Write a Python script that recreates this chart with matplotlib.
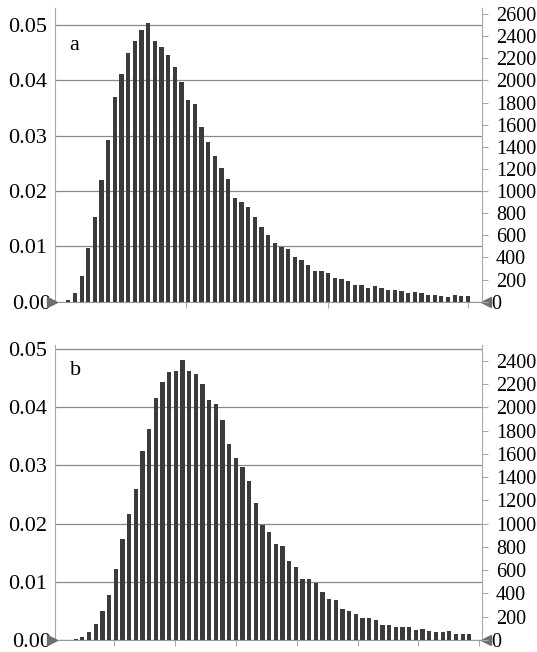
import matplotlib
matplotlib.use("Agg")
import matplotlib.pyplot as plt
import matplotlib.transforms as mtransforms
import numpy as np

plt.rcParams['font.family'] = ['Liberation Serif', 'DejaVu Serif']

# Panel a: relative frequency per bin
freq_a = [0.0003, 0.0015, 0.0047, 0.0097, 0.0153, 0.0220, 0.0293, 0.0371, 0.0411, 0.0450,
          0.0471, 0.0491, 0.0504, 0.0471, 0.0460, 0.0446, 0.0425, 0.0397, 0.0365, 0.0358,
          0.0316, 0.0289, 0.0263, 0.0242, 0.0222, 0.0188, 0.0180, 0.0172, 0.0154, 0.0135,
          0.0121, 0.0107, 0.0099, 0.0095, 0.0080, 0.0075, 0.0066, 0.0056, 0.0056, 0.0052,
          0.0042, 0.0041, 0.0038, 0.0030, 0.0030, 0.0024, 0.0028, 0.0024, 0.0021, 0.0021,
          0.0019, 0.0015, 0.0017, 0.0015, 0.0013, 0.0012, 0.0010, 0.0008, 0.0012, 0.0010,
          0.0010]

# Panel b: relative frequency per bin
freq_b = [0.0002, 0.0006, 0.0014, 0.0028, 0.0049, 0.0078, 0.0122, 0.0173, 0.0216, 0.0260,
          0.0325, 0.0363, 0.0416, 0.0443, 0.0461, 0.0463, 0.0481, 0.0463, 0.0458, 0.0440,
          0.0413, 0.0406, 0.0378, 0.0336, 0.0313, 0.0298, 0.0274, 0.0235, 0.0198, 0.0185,
          0.0165, 0.0161, 0.0135, 0.0126, 0.0104, 0.0104, 0.0098, 0.0083, 0.0071, 0.0069,
          0.0054, 0.0050, 0.0045, 0.0038, 0.0037, 0.0034, 0.0025, 0.0026, 0.0022, 0.0023,
          0.0023, 0.0018, 0.0019, 0.0015, 0.0013, 0.0013, 0.0015, 0.0011, 0.0011, 0.0011]

left_ticks = [0.00, 0.01, 0.02, 0.03, 0.04, 0.05]
right_ticks_a = list(range(0, 2601, 200))
right_ticks_b = list(range(0, 2401, 200))
count_scale = 50000  # counts per unit relative frequency
panel_labels = ['a', 'b']

W, H = 537, 652
fig = plt.figure(figsize=(W / 100, H / 100), dpi=100)

BAR = '#3b3b3b'
GRID = '#8a8a8a'
SPINE = '#a8a8a8'


def make_panel(rect, freqs, xlim, ylim_top, rticks, xticks, label, label_xy):
    ax = fig.add_axes(rect)
    x = np.arange(1, len(freqs) + 1)
    ax.bar(x, freqs, width=0.64, color=BAR, zorder=3)
    ax.set_xlim(*xlim)
    ax.set_ylim(0, ylim_top)
    ax.set_yticks(left_ticks)
    ax.set_yticklabels(['%.2f' % v for v in left_ticks])
    ax.yaxis.grid(True, color=GRID, lw=0.9, zorder=1)
    ax.set_axisbelow(True)
    ax.tick_params(axis='y', length=0, pad=6, labelsize=16)
    ax.set_xticks(xticks)
    ax.set_xticklabels([])
    ax.tick_params(axis='x', direction='out', length=4, color=SPINE, width=0.8)
    ax.spines['top'].set_visible(False)
    ax.spines['right'].set_visible(False)
    ax.spines['left'].set_color(SPINE)
    ax.spines['bottom'].set_color('#999999')
    # shift the zero label toward the axis
    lbls = ax.get_yticklabels()
    lbls[0].set_transform(lbls[0].get_transform() +
                          mtransforms.ScaledTranslation(4 / 100, 0, fig.dpi_scale_trans))

    ax2 = ax.twinx()
    ax2.set_ylim(0, ylim_top * count_scale)
    ax2.set_yticks(rticks)
    ax2.set_yticklabels([str(v) for v in rticks])
    ax2.tick_params(axis='y', direction='out', length=4, color=SPINE, width=0.8,
                    pad=6, labelsize=14.5)
    for s in ['top', 'left', 'bottom']:
        ax2.spines[s].set_visible(False)
    ax2.spines['right'].set_color(SPINE)
    rl = ax2.get_yticklabels()
    rl[0].set_transform(rl[0].get_transform() +
                        mtransforms.ScaledTranslation(-5 / 100, 0, fig.dpi_scale_trans))

    # axis-crossing triangles
    tl = mtransforms.offset_copy(ax.transAxes, fig=fig, x=-3.5, y=0, units='dots')
    ax.plot([0], [0], marker='>', ms=7.5, color='#6e6e6e', transform=tl,
            clip_on=False, zorder=5)
    tr = mtransforms.offset_copy(ax.transAxes, fig=fig, x=3.5, y=0, units='dots')
    ax.plot([1], [0], marker='<', ms=7.5, color='#6e6e6e', transform=tr,
            clip_on=False, zorder=5)

    fig.text(label_xy[0] / W, 1 - label_xy[1] / H, label, fontsize=16,
             ha='center', va='center')
    return ax


make_panel([55 / W, 350.3 / H, 427 / W, 293.4 / H], freq_a, (-1.0, 63.1), 0.05305,
           right_ticks_a, [18.65, 39.98, 60.97], panel_labels[0], (74, 46))
make_panel([55 / W, 12 / H, 427 / W, 295 / H], freq_b, (-2.1, 61.9), 0.0507,
           right_ticks_b, [6.79, 15.89, 25.03, 34.13, 43.28, 52.36, 61.5],
           panel_labels[1], (76, 370))

fig.savefig('out.png', dpi=100)
